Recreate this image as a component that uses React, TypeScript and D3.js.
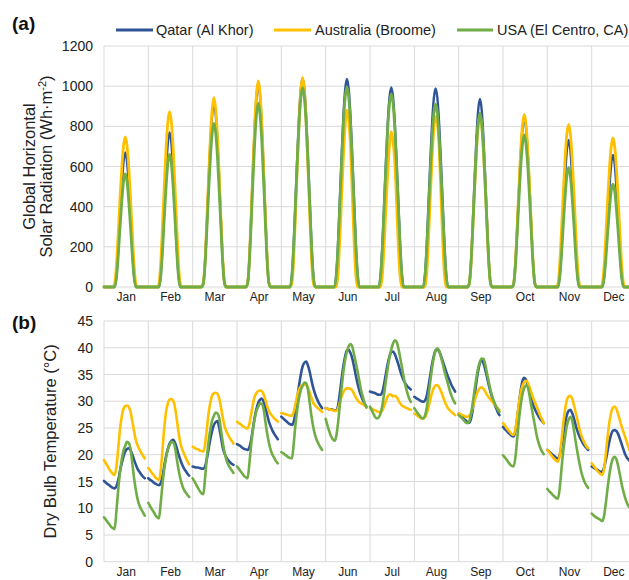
import React from "react";
import * as d3 from "d3";

const MONTHS = ["Jan", "Feb", "Mar", "Apr", "May", "Jun", "Jul", "Aug", "Sep", "Oct", "Nov", "Dec"];
const SOLAR_TICKS = [0, 200, 400, 600, 800, 1000, 1200];
const TEMP_TICKS = [0, 5, 10, 15, 20, 25, 30, 35, 40, 45];
const SERIES_NAMES = ["Qatar (Al Khor)", "Australia (Broome)", "USA (El Centro, CA)"];
const SERIES_COLORS = ["#2F5597", "#FFC000", "#70AD47"];

// Hourly (0-23) average global horizontal radiation per month, Wh/m2
const qatarSolar: number[][] = [
  [0,0,0,0,0,0,0,54,181,348,503,623,670,623,503,348,181,54,0,0,0,0,0,0],
  [0,0,0,0,0,0,0,62,208,400,578,716,770,716,578,400,208,62,0,0,0,0,0,0],
  [0,0,0,0,0,0,18,128,320,531,723,860,915,860,723,531,320,128,18,0,0,0,0,0],
  [0,0,0,0,0,0,20,141,354,586,798,949,1010,949,798,586,354,141,20,0,0,0,0,0],
  [0,0,0,0,0,0,62,218,436,654,851,986,1038,986,851,654,436,218,62,0,0,0,0,0],
  [0,0,0,0,0,0,62,218,435,653,850,984,1036,984,850,653,435,218,62,0,0,0,0,0],
  [0,0,0,0,0,0,60,209,417,626,815,944,994,944,815,626,417,209,60,0,0,0,0,0],
  [0,0,0,0,0,0,59,208,415,623,811,940,989,940,811,623,415,208,59,0,0,0,0,0],
  [0,0,0,0,0,0,19,131,328,543,739,880,936,880,739,543,328,131,19,0,0,0,0,0],
  [0,0,0,0,0,0,17,118,294,487,664,790,840,790,664,487,294,118,17,0,0,0,0,0],
  [0,0,0,0,0,0,0,59,198,381,549,681,732,681,549,381,198,59,0,0,0,0,0,0],
  [0,0,0,0,0,0,0,53,177,342,493,611,657,611,493,342,177,53,0,0,0,0,0,0],
];
const australiaSolar: number[][] = [
  [0,0,0,0,0,0,15,105,262,434,591,703,748,703,591,434,262,105,15,0,0,0,0,0],
  [0,0,0,0,0,0,17,122,306,506,690,821,873,821,690,506,306,122,17,0,0,0,0,0],
  [0,0,0,0,0,0,19,132,330,547,745,886,943,886,745,547,330,132,19,0,0,0,0,0],
  [0,0,0,0,0,0,21,144,359,595,811,964,1026,964,811,595,359,144,21,0,0,0,0,0],
  [0,0,0,0,0,0,21,146,365,604,823,979,1042,979,823,604,365,146,21,0,0,0,0,0],
  [0,0,0,0,0,0,0,70,240,450,650,810,881,832,700,470,230,60,0,0,0,0,0,0],
  [0,0,0,0,0,0,0,60,210,400,570,710,773,724,620,420,200,50,0,0,0,0,0,0],
  [0,0,0,0,0,0,0,70,240,450,640,790,848,816,690,470,230,60,0,0,0,0,0,0],
  [0,0,0,0,0,0,17,120,299,496,675,804,855,804,675,496,299,120,17,0,0,0,0,0],
  [0,0,0,0,0,0,17,120,301,499,679,808,860,808,679,499,301,120,17,0,0,0,0,0],
  [0,0,0,0,0,0,16,113,284,470,640,761,810,761,640,470,284,113,16,0,0,0,0,0],
  [0,0,0,0,0,0,15,104,260,430,586,697,742,697,586,430,260,104,15,0,0,0,0,0],
];
const usaSolar: number[][] = [
  [0,0,0,0,0,0,0,45,152,293,422,524,563,524,422,293,152,45,0,0,0,0,0,0],
  [0,0,0,0,0,0,0,53,179,344,497,616,662,616,497,344,179,53,0,0,0,0,0,0],
  [0,0,0,0,0,0,16,114,285,473,644,766,815,766,644,473,285,114,16,0,0,0,0,0],
  [0,0,0,0,0,0,18,128,320,531,723,860,915,860,723,531,320,128,18,0,0,0,0,0],
  [0,0,0,0,0,0,60,209,417,626,814,943,993,943,814,626,417,209,60,0,0,0,0,0],
  [0,0,0,0,0,0,60,209,418,627,816,945,995,945,816,627,418,209,60,0,0,0,0,0],
  [0,0,0,0,0,0,58,202,404,606,789,914,962,914,789,606,404,202,58,0,0,0,0,0],
  [0,0,0,0,0,0,55,191,382,573,746,865,910,865,746,573,382,191,55,0,0,0,0,0],
  [0,0,0,0,0,0,17,121,303,502,684,814,866,814,684,502,303,121,17,0,0,0,0,0],
  [0,0,0,0,0,0,15,106,265,439,598,712,757,712,598,439,265,106,15,0,0,0,0,0],
  [0,0,0,0,0,0,0,48,160,309,446,552,594,552,446,309,160,48,0,0,0,0,0,0],
  [0,0,0,0,0,0,0,41,138,266,384,476,512,476,384,266,138,41,0,0,0,0,0,0],
];

// Hourly (0-23) average dry bulb temperature per month, °C
const qatarTemp: number[][] = [
  [15.1,14.8,14.5,14.3,14.0,13.8,13.7,14.1,15.2,16.9,18.4,19.7,20.6,21.1,21.2,20.8,20.0,19.0,18.1,17.3,16.8,16.3,15.9,15.6],
  [15.6,15.3,15.1,14.8,14.6,14.4,14.3,14.7,16.0,17.9,19.7,21.1,22.1,22.6,22.8,22.3,21.3,20.1,19.1,18.2,17.5,17.0,16.5,16.1],
  [17.8,17.7,17.6,17.6,17.5,17.4,17.4,17.8,19.2,21.1,23.0,24.5,25.6,26.1,26.3,25.0,23.2,21.3,20.2,19.5,19.0,18.6,18.3,18.1],
  [22.0,21.8,21.6,21.3,21.1,21.0,20.9,21.4,22.8,24.9,27.0,28.6,29.7,30.3,30.5,29.9,28.8,27.5,26.2,25.3,24.5,23.9,23.4,22.9],
  [27.1,26.8,26.5,26.2,25.9,25.7,25.6,26.2,28.0,30.6,33.0,35.0,36.5,37.2,37.4,36.7,35.5,33.9,32.5,31.4,30.5,29.8,29.2,28.7],
  [28.7,28.6,28.5,28.5,28.4,28.3,28.3,29.2,31.5,34.2,36.6,38.4,39.5,39.6,39.0,38.0,36.5,34.8,33.3,32.0,31.0,30.2,29.5,29.0],
  [31.8,31.7,31.6,31.5,31.3,31.2,31.2,31.8,33.3,35.2,37.0,38.4,39.2,39.3,38.8,37.9,36.9,35.7,34.7,33.9,33.3,32.8,32.5,32.2],
  [30.8,30.6,30.4,30.2,30.0,29.9,30.1,31.0,32.8,34.9,36.9,38.5,39.5,39.7,39.3,38.5,37.5,36.5,35.5,34.6,33.8,33.0,32.4,31.8],
  [27.7,27.4,27.1,26.7,26.4,26.1,26.0,26.8,28.6,31.0,33.6,35.7,37.2,37.7,37.1,35.9,34.5,33.0,31.7,30.6,29.6,28.8,28.0,27.4],
  [25.2,24.8,24.5,24.1,23.8,23.5,23.4,24.5,26.8,29.5,32.0,33.8,34.4,34.0,33.0,31.7,30.4,29.3,28.5,27.8,27.2,26.7,26.3,25.9],
  [20.9,20.6,20.3,20.0,19.7,19.4,19.3,20.0,21.7,23.8,25.9,27.4,28.2,28.4,27.8,26.8,25.5,24.4,23.5,22.8,22.2,21.7,21.3,20.9],
  [17.8,17.6,17.4,17.2,17.0,16.8,16.9,17.6,19.0,20.8,22.5,23.8,24.5,24.6,24.4,23.8,22.9,21.9,20.9,20.0,19.4,19.0,18.6,18.3],
];
const australiaTemp: number[][] = [
  [19.0,18.4,17.9,17.3,16.8,16.4,16.2,17.8,21.1,24.7,27.1,28.6,29.1,29.2,28.9,28.0,26.2,24.3,22.7,21.7,21.0,20.4,19.8,19.3],
  [17.5,17.1,16.6,16.2,15.7,15.5,15.3,17.1,21.0,25.1,28.0,29.6,30.3,30.4,30.1,28.9,26.7,24.3,22.3,21.1,20.3,19.5,18.8,18.2],
  [21.5,21.3,21.1,21.0,20.8,20.7,20.6,21.9,24.8,27.8,29.8,31.1,31.5,31.6,31.4,30.5,28.8,26.9,25.3,24.4,23.7,23.1,22.6,22.1],
  [26.2,25.9,25.7,25.4,25.2,25.0,24.9,25.8,27.6,29.5,30.9,31.6,31.9,32.0,31.9,31.3,30.3,29.1,28.2,27.6,27.2,26.8,26.5,26.2],
  [27.8,27.7,27.6,27.5,27.4,27.3,27.3,28.0,29.5,31.1,32.2,32.8,33.0,33.1,33.0,32.5,31.6,30.6,29.7,29.2,28.9,28.6,28.3,28.0],
  [28.7,28.6,28.5,28.4,28.3,28.2,28.2,28.7,29.8,30.9,31.7,32.2,32.4,32.4,32.3,32.0,31.4,30.7,30.2,29.8,29.6,29.4,29.2,29.0],
  [28.7,28.6,28.4,28.3,28.1,28.0,28.0,28.3,29.1,30.1,30.9,31.3,31.2,30.9,31.0,30.8,30.2,29.6,29.2,29.0,28.8,28.7,28.5,28.4],
  [27.7,27.5,27.2,27.0,26.8,26.8,27.0,27.7,28.9,30.3,31.6,32.5,33.0,33.0,32.6,31.9,31.0,30.1,29.3,28.7,28.3,28.0,27.7,27.4],
  [27.7,27.6,27.4,27.3,27.1,27.1,27.3,27.9,28.9,30.1,31.2,32.0,32.5,32.6,32.3,31.8,31.2,30.7,30.3,29.9,29.5,29.1,28.7,28.4],
  [25.9,25.5,25.0,24.6,24.2,23.8,23.7,24.8,27.1,29.6,31.6,32.9,33.6,33.8,33.5,32.6,31.6,30.6,29.8,29.0,28.2,27.3,26.6,25.9],
  [20.9,20.5,20.0,19.6,19.2,18.9,18.7,19.9,22.7,25.9,28.5,30.2,30.9,31.0,30.5,29.3,27.9,26.5,25.0,23.8,22.9,22.2,21.6,21.2],
  [18.4,18.0,17.5,17.1,16.7,16.4,16.2,17.4,20.2,23.4,26.1,27.9,28.8,29.0,28.5,27.5,26.3,25.2,24.2,23.2,22.2,21.2,20.3,19.5],
];
const usaTemp: number[][] = [
  [8.3,7.9,7.4,7.0,6.5,6.3,6.1,9.4,13.4,16.7,19.1,20.8,21.7,22.4,22.2,21.0,18.3,15.5,13.3,11.6,10.5,9.8,9.2,8.6],
  [11.0,10.4,9.8,9.3,8.7,8.3,8.1,11.0,14.5,17.4,19.5,21.0,21.8,22.4,22.3,21.4,19.3,17.3,15.6,14.4,13.5,13.0,12.5,12.1],
  [15.6,15.0,14.4,13.8,13.2,12.8,12.6,15.7,19.5,22.5,24.8,26.4,27.3,27.9,27.7,26.8,24.5,22.3,20.4,19.1,18.2,17.6,17.1,16.6],
  [17.8,17.4,16.9,16.5,16.0,15.8,15.6,18.4,21.9,24.7,26.8,28.2,29.0,29.6,29.5,28.5,26.2,24.0,22.2,20.9,20.0,19.4,18.8,18.4],
  [20.5,20.3,20.0,19.8,19.5,19.4,19.3,22.1,25.7,28.5,30.7,32.1,32.9,33.5,33.4,32.2,29.7,27.2,25.2,23.7,22.7,22.0,21.4,20.9],
  [26.7,25.5,24.4,23.5,22.9,22.6,23.5,26.0,29.3,32.5,35.5,37.8,39.3,40.3,40.7,40.2,38.8,37.2,35.6,33.8,32.0,30.8,29.6,28.8],
  [29.0,28.3,27.6,27.0,26.8,27.0,27.8,29.3,31.5,33.9,36.2,38.2,39.7,40.8,41.4,41.1,39.9,38.2,36.4,34.5,32.9,31.6,30.6,29.9],
  [28.7,28.2,27.7,27.3,26.9,26.8,27.3,28.8,31.1,33.7,36.2,38.2,39.5,39.9,39.4,38.3,37.0,35.6,34.4,33.2,32.0,31.0,30.2,29.6],
  [27.4,27.1,26.8,26.4,26.0,25.9,26.3,27.6,29.8,32.2,34.4,36.2,37.4,38.0,37.9,36.8,35.2,33.6,32.0,30.8,29.9,29.1,28.5,28.0],
  [19.9,19.5,19.1,18.6,18.2,17.9,17.8,19.5,23.0,26.5,29.3,31.3,32.5,33.0,32.6,31.0,29.0,27.2,25.4,23.6,22.3,21.3,20.6,20.1],
  [13.6,13.2,12.9,12.5,12.2,11.9,11.8,13.8,17.4,20.7,23.3,25.4,26.6,27.1,26.4,24.6,22.4,20.4,18.6,17.0,15.8,14.9,14.3,13.8],
  [9.0,8.7,8.4,8.2,8.0,7.8,7.6,8.6,11.0,13.8,16.3,18.2,19.3,19.6,19.1,17.8,16.1,14.4,13.0,11.8,10.9,10.3,9.9,9.5],
];

const SOLAR = [qatarSolar, australiaSolar, usaSolar];
const TEMP = [qatarTemp, australiaTemp, usaTemp];

const W = 629;
const H = 580;
const SLOTS = 25; // 24 hours + 1 gap slot per month
const FONT = "Liberation Sans, Arial, Helvetica, sans-serif";

const x = d3.scaleLinear().domain([0, 12 * SLOTS]).range([104, 636]);
const yS = d3.scaleLinear().domain([0, 1200]).range([287, 46]);
const yT = d3.scaleLinear().domain([0, 45]).range([561.7, 321]);

type Pt = { i: number; v: number | null };

function solarPoints(rows: number[][]): Pt[] {
  const pts: Pt[] = [];
  rows.forEach((row, m) => row.forEach((v, h) => pts.push({ i: m * SLOTS + h, v })));
  return pts;
}
function tempPoints(rows: number[][]): Pt[] {
  const pts: Pt[] = [];
  rows.forEach((row, m) => {
    row.forEach((v, h) => pts.push({ i: m * SLOTS + h, v }));
    pts.push({ i: m * SLOTS + 24, v: null });
  });
  return pts;
}

const solarLine = d3
  .line<Pt>()
  .x((d) => x(d.i))
  .y((d) => yS(d.v as number))
  .curve(d3.curveMonotoneX);
const tempLine = d3
  .line<Pt>()
  .defined((d) => d.v !== null)
  .x((d) => x(d.i))
  .y((d) => yT(d.v as number))
  .curve(d3.curveMonotoneX);

const GRID = "#d9d9d9";

function Panel({ y, ticks, labelY }: { y: d3.ScaleLinear<number, number>; ticks: number[]; labelY: number }) {
  const [y0, y1] = y.range();
  return (
    <g>
      {ticks.map((t) => (
        <line key={"h" + t} x1={x(0)} x2={x(12 * SLOTS)} y1={y(t)} y2={y(t)} stroke={GRID} strokeWidth={1} />
      ))}
      {d3.range(13).map((m) => (
        <line key={"v" + m} x1={x(m * SLOTS)} x2={x(m * SLOTS)} y1={y0} y2={y1} stroke={GRID} strokeWidth={1} />
      ))}
      {ticks.map((t) => (
        <text key={"t" + t} x={93} y={y(t)} dy="0.36em" textAnchor="end" fontSize={14} fill="#222">
          {t}
        </text>
      ))}
      {MONTHS.map((mm, m) => (
        <text key={mm} x={x(m * SLOTS + 12.5)} y={labelY} textAnchor="middle" fontSize={12} fill="#222">
          {mm}
        </text>
      ))}
    </g>
  );
}

export default function App() {
  const legendItems = [
    { x1: 116, x2: 153, tx: 156 },
    { x1: 274, x2: 311, tx: 315 },
    { x1: 457, x2: 493, tx: 497 },
  ];
  return (
    <svg
      width={W}
      height={H}
      style={{ position: "absolute", left: 0, top: 0, background: "#fff" }}
      fontFamily={FONT}
    >
      <rect x={0} y={0} width={W} height={H} fill="#fff" />
      {/* Panel (a) */}
      <Panel y={yS} ticks={SOLAR_TICKS} labelY={301} />
      {SOLAR.map((rows, k) => (
        <path
          key={"s" + k}
          d={solarLine(solarPoints(rows)) || ""}
          fill="none"
          stroke={SERIES_COLORS[k]}
          strokeWidth={k === 0 ? 2.4 : 2.8}
          strokeLinejoin="round"
          strokeLinecap="round"
        />
      ))}
      {/* Panel (b) */}
      <Panel y={yT} ticks={TEMP_TICKS} labelY={576} />
      {TEMP.map((rows, k) => (
        <path
          key={"t" + k}
          d={tempLine(tempPoints(rows)) || ""}
          fill="none"
          stroke={SERIES_COLORS[k]}
          strokeWidth={2.6}
          strokeLinejoin="round"
          strokeLinecap="round"
        />
      ))}

      {/* panel labels */}
      <text x={12} y={30} fontSize={19} fontWeight="bold" fill="#111">(a)</text>
      <text x={12} y={329} fontSize={19} fontWeight="bold" fill="#111">(b)</text>

      {/* legend */}
      {legendItems.map((l, k) => (
        <g key={"l" + k}>
          <line x1={l.x1} x2={l.x2} y1={30} y2={30} stroke={SERIES_COLORS[k]} strokeWidth={3} />
          <text x={l.tx} y={30} dy="0.36em" fontSize={14.5} fill="#222">
            {SERIES_NAMES[k]}
          </text>
        </g>
      ))}

      {/* axis titles */}
      <g transform={`translate(29, ${(yS(0) + yS(1200)) / 2}) rotate(-90)`}>
        <text textAnchor="middle" dy="0.36em" fontSize={16.5} fill="#222">Global Horizontal</text>
      </g>
      <g transform={`translate(46, ${(yS(0) + yS(1200)) / 2}) rotate(-90)`}>
        <text textAnchor="middle" dy="0.36em" fontSize={16.5} fill="#222">
          Solar Radiation (Wh·m<tspan dy="-6" fontSize={11}>-2</tspan>
          <tspan dy="6">)</tspan>
        </text>
      </g>
      <g transform={`translate(50, ${(yT(0) + yT(45)) / 2}) rotate(-90)`}>
        <text textAnchor="middle" dy="0.36em" fontSize={16.5} fill="#222">Dry Bulb Temperature (°C)</text>
      </g>
    </svg>
  );
}
